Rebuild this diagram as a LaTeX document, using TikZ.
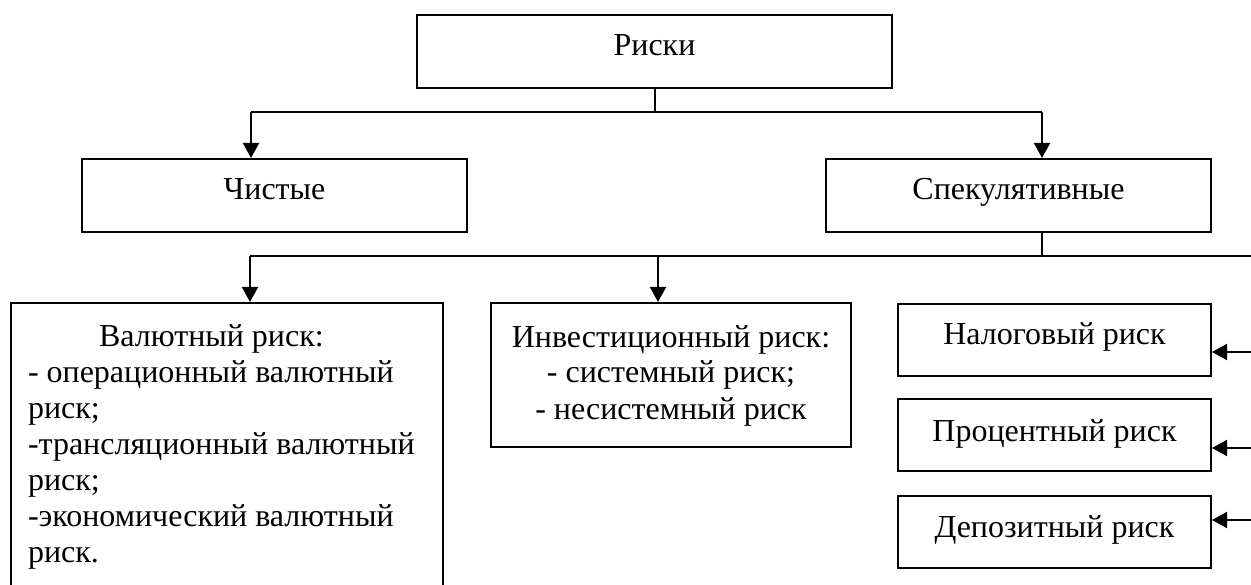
\documentclass[tikz,border=0pt]{standalone}
\usepackage{fontspec}
\setmainfont{Liberation Serif}
\usetikzlibrary{arrows.meta}
\begin{document}
\begin{tikzpicture}[x=1pt,y=-1pt,line width=2pt,
  box/.style={draw,line width=2pt,inner sep=0pt,minimum width=#1},
  txt/.style={anchor=base,inner sep=0pt,font=\fontsize{32}{36}\selectfont},
  arr/.style={-{Triangle[length=15pt,width=16pt]}}]
\useasboundingbox (0,0) rectangle (1251,585);
\clip (0,0) rectangle (1251,585);
% boxes
\node[box=475,minimum height=73] (riski) at (654.5,51.5) {};
\node[box=385,minimum height=73] (chist) at (274.5,195.5) {};
\node[box=385,minimum height=73] (spec) at (1018.5,195.5) {};
\node[box=432,minimum height=347] (val) at (227,476.5) {};
\node[box=360,minimum height=144] (inv) at (671,375) {};
\node[box=313,minimum height=72] (nal) at (1054.5,340) {};
\node[box=313,minimum height=72] (proc) at (1054.5,435) {};
\node[box=313,minimum height=72] (dep) at (1054.5,532) {};
% texts
\node[txt] (triski) at (654.5,56) {Риски};
\node[txt] (tchist) at (274.5,200) {Чистые};
\node[txt] (tspec) at (1018.5,200) {Спекулятивные};
\node[txt] (tnal) at (1054.5,345) {Налоговый риск};
\node[txt] (tproc) at (1054.5,442) {Процентный риск};
\node[txt] (tdep) at (1054.5,537) {Депозитный риск};
\node[txt,anchor=base west,align=left] (tval) at (27,562) {\hspace*{71pt}Валютный риск:\\- операционный валютный\\риск;\\-трансляционный валютный\\риск;\\-экономический валютный\\риск.};
\node[txt,align=center] (tinv) at (671,419) {Инвестиционный риск:\\- системный риск;\\- несистемный риск};
% connectors level 1
\coordinate (j1) at (654.5,112);
\coordinate (a1) at (251,112);
\coordinate (a2) at (1042,112);
\draw (riski.south) -- (j1);
\draw (a1) -- (a2);
\draw[arr] (a1) -- (a1 |- chist.north);
\draw[arr] (a2) -- (a2 |- spec.north);
% connectors level 2
\coordinate (j2) at (1042,256);
\coordinate (b1) at (250,256);
\coordinate (b2) at (658,256);
\coordinate (r0) at (1262,256);
\draw (j2 |- spec.south) -- (j2);
\draw (b1) -- (r0);
\draw[arr] (b1) -- (b1 |- val.north);
\draw[arr] (b2) -- (b2 |- inv.north);
\coordinate (r1) at (1262,352);
\coordinate (r2) at (1262,448);
\coordinate (r3) at (1262,520);
\draw (r0) -- (r3);
\draw[arr] (r1) -- (r1 -| nal.east);
\draw[arr] (r2) -- (r2 -| proc.east);
\draw[arr] (r3) -- (r3 -| dep.east);
\end{tikzpicture}
\end{document}
